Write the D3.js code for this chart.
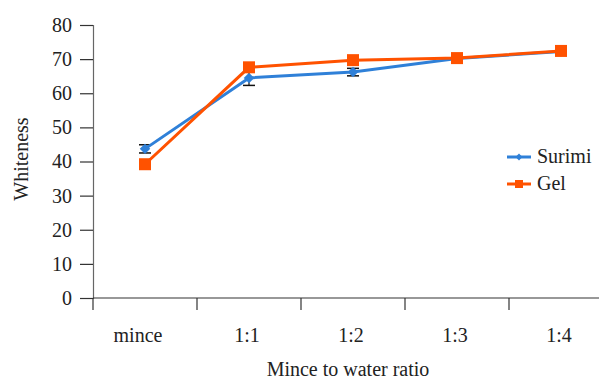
<!DOCTYPE html>
<html>
<head>
<meta charset="utf-8">
<script src="https://d3js.org/d3.v7.min.js"></script>
<style>
  body { margin: 0; background: #fff; }
</style>
</head>
<body>
<div id="chart"></div>
<script>
// data
var categories = ["mince", "1:1", "1:2", "1:3", "1:4"];
var surimi = [43.7, 64.5, 66.2, 70.2, 72.2];
var surimiErr = [1.2, 2.2, 1.1, 0.6, 0.5];
var gel = [39.2, 67.6, 69.7, 70.3, 72.4];
var yTicks = [0, 10, 20, 30, 40, 50, 60, 70, 80];

var FONT = "'Liberation Serif', 'DejaVu Serif', serif";
var FS = "20px";

var width = 599, height = 381;
var margin = {top: 25, left: 93};
var w = 520,            // category axis runs past the right edge, as in the original
    h = 298 - margin.top;

var root = d3.select("#chart")
    .append("svg")
        .attr("width", width)
        .attr("height", height)
        .style("font-family", FONT);
var svg = root.append("g")
        .attr("transform", "translate(" + margin.left + "," + margin.top + ")");

var x = d3.scaleBand()
    .domain(categories)
    .range([0, w]);

var y = d3.scaleLinear()
    .domain([0, 80])
    .range([h, 0]);

// Y axis
var yAxis = svg.append("g")
    .call(d3.axisLeft(y).tickValues(yTicks).tickSize(13).tickPadding(8));
yAxis.attr("font-family", null);
yAxis.select(".domain").attr("stroke", "#666").attr("stroke-width", 1.2);
yAxis.selectAll(".tick line").attr("stroke", "#333").attr("stroke-width", 1.2);
yAxis.selectAll("text")
    .style("font-family", FONT)
    .style("font-size", FS)
    .attr("fill", "#222");

// X axis: ticks at band edges
var xAxis = svg.append("g")
    .attr("transform", "translate(0," + h + ")");
xAxis.append("line")
    .attr("x1", 0).attr("x2", width - margin.left)
    .attr("stroke", "#333").attr("stroke-width", 1.2);
var edges = categories.map(function(c) { return x(c); });
xAxis.selectAll(".edge")
    .data(edges)
    .enter()
    .append("line")
        .attr("x1", function(d) { return d; })
        .attr("x2", function(d) { return d; })
        .attr("y1", 0).attr("y2", 12)
        .attr("stroke", "#333").attr("stroke-width", 1.2);
xAxis.selectAll(".lab")
    .data(categories)
    .enter()
    .append("text")
        .attr("x", function(d, i) { return x(d) + x.bandwidth() / 2 - (i == 0 ? 7 : 2); })
        .attr("y", 44)
        .attr("text-anchor", "middle")
        .attr("fill", "#222")
        .style("font-family", FONT)
        .style("font-size", FS)
        .text(function(d) { return d; });

// Axis titles
svg.append("text")
    .attr("x", 348 - margin.left)
    .attr("y", 376 - margin.top)
    .attr("text-anchor", "middle")
    .attr("fill", "#222")
    .style("font-family", FONT)
    .style("font-size", FS)
    .text("Mince to water ratio");

svg.append("text")
    .attr("transform", "rotate(-90)")
    .attr("x", -(159 - margin.top))
    .attr("y", -(93 - 28))
    .attr("text-anchor", "middle")
    .attr("fill", "#222")
    .style("font-family", FONT)
    .style("font-size", FS)
    .text("Whiteness");

var cx = function(d, i) { return x(categories[i]) + x.bandwidth() / 2; };
var line = d3.line()
    .x(function(d, i) { return cx(d, i); })
    .y(function(d) { return y(d); });

var blue = "#2f80d8", orange = "#ff5200";

// Error bars (Surimi)
var eb = svg.append("g").selectAll("g")
    .data(surimi)
    .enter()
    .append("g");
eb.append("line")
    .attr("x1", cx).attr("x2", cx)
    .attr("y1", function(d, i) { return y(d + surimiErr[i]); })
    .attr("y2", function(d, i) { return y(d - surimiErr[i]); })
    .attr("stroke", "#111").attr("stroke-width", 1.2);
[1, -1].forEach(function(s) {
    eb.append("line")
        .attr("x1", function(d, i) { return cx(d, i) - 6; })
        .attr("x2", function(d, i) { return cx(d, i) + 6; })
        .attr("y1", function(d, i) { return y(d + s * surimiErr[i]); })
        .attr("y2", function(d, i) { return y(d + s * surimiErr[i]); })
        .attr("stroke", "#111").attr("stroke-width", 1.5);
});

// Surimi line
svg.append("path")
    .datum(surimi)
    .attr("d", line)
    .attr("fill", "none")
    .attr("stroke", blue)
    .attr("stroke-width", 3);

// Gel line
svg.append("path")
    .datum(gel)
    .attr("d", line)
    .attr("fill", "none")
    .attr("stroke", orange)
    .attr("stroke-width", 3);

// Surimi diamonds
svg.append("g").selectAll("path")
    .data(surimi)
    .enter()
    .append("path")
        .attr("d", d3.symbol().type(d3.symbolDiamond2).size(70))
        .attr("transform", function(d, i) { return "translate(" + cx(d, i) + "," + y(d) + ")"; })
        .attr("fill", blue);

// Gel squares
svg.append("g").selectAll("rect")
    .data(gel)
    .enter()
    .append("rect")
        .attr("x", function(d, i) { return cx(d, i) - 6; })
        .attr("y", function(d) { return y(d) - 6; })
        .attr("width", 12)
        .attr("height", 12)
        .attr("fill", orange);

// Legend
var legend = svg.append("g")
    .attr("transform", "translate(" + (507 - margin.left) + "," + (157 - margin.top) + ")");
var items = [
    {name: "Surimi", color: blue, shape: "diamond"},
    {name: "Gel", color: orange, shape: "square"}
];
var li = legend.selectAll("g")
    .data(items)
    .enter()
    .append("g")
        .attr("transform", function(d, i) { return "translate(0," + (i * 27) + ")"; });
li.append("line")
    .attr("x1", 0).attr("x2", 24)
    .attr("stroke", function(d) { return d.color; })
    .attr("stroke-width", 3);
li.append("path")
    .attr("d", function(d) {
        return d.shape == "diamond"
            ? d3.symbol().type(d3.symbolDiamond2).size(30)()
            : d3.symbol().type(d3.symbolSquare).size(64)();
    })
    .attr("transform", "translate(12,0)")
    .attr("fill", function(d) { return d.color; });
li.append("text")
    .attr("x", 30)
    .attr("y", 6)
    .attr("fill", "#222")
    .style("font-family", FONT)
    .style("font-size", FS)
    .text(function(d) { return d.name; });
</script>
</body>
</html>
